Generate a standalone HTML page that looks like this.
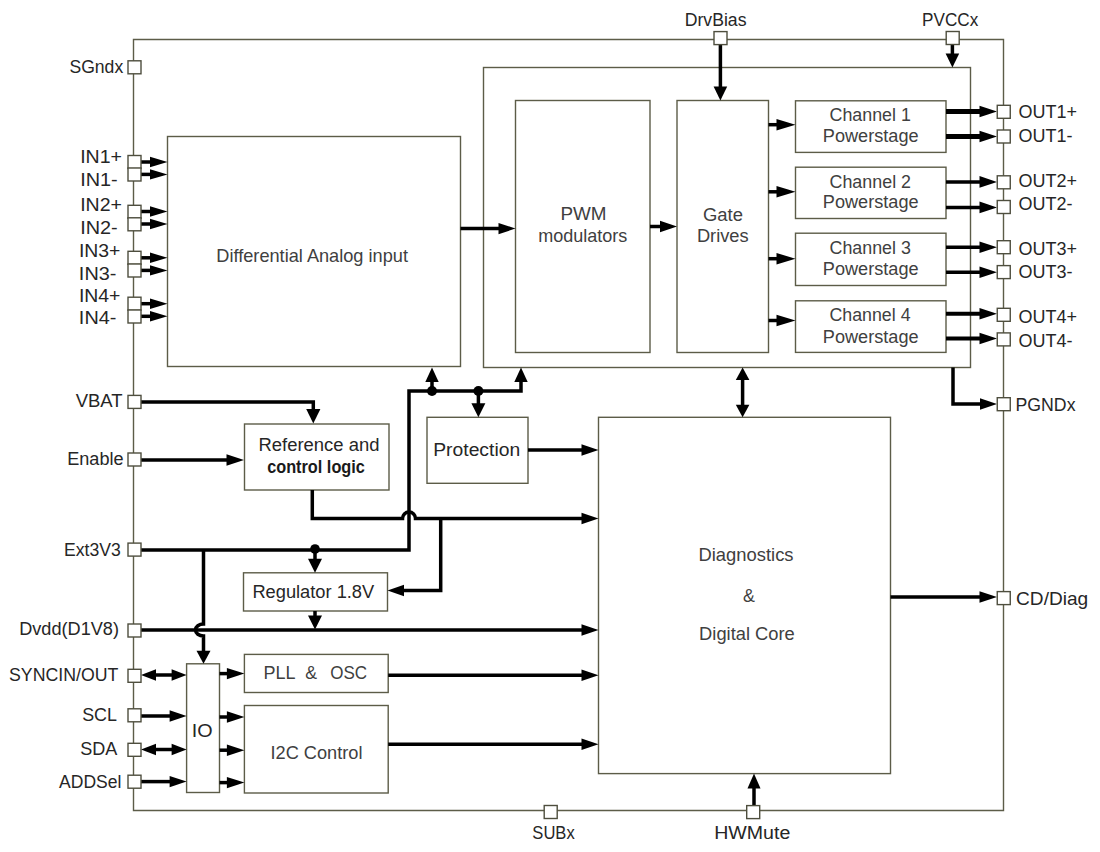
<!DOCTYPE html>
<html><head><meta charset="utf-8"><style>
html,body{margin:0;padding:0;background:#fff;width:1100px;height:852px;overflow:hidden}
svg{display:block;font-family:"Liberation Sans",sans-serif}
</style></head><body>
<svg width="1100" height="852" viewBox="0 0 1100 852">
<rect width="1100" height="852" fill="#fff"/>
<path d="M133.5,39.5 H1003.5 V810.5 H133.5 Z" fill="none" stroke="#5c5c48" stroke-width="1.4"/>
<rect x="167.5" y="136.5" width="293.00" height="230.00" fill="none" stroke="#5c5c48" stroke-width="1.4"/>
<rect x="483.5" y="67.5" width="487.00" height="300.00" fill="none" stroke="#5c5c48" stroke-width="1.4"/>
<rect x="515.5" y="100.5" width="134.50" height="252.00" fill="none" stroke="#5c5c48" stroke-width="1.4"/>
<rect x="677" y="100.5" width="91.50" height="252.00" fill="none" stroke="#5c5c48" stroke-width="1.4"/>
<rect x="795.5" y="100.8" width="150.50" height="51.60" fill="none" stroke="#5c5c48" stroke-width="1.4"/>
<rect x="795.5" y="167.2" width="150.50" height="51.30" fill="none" stroke="#5c5c48" stroke-width="1.4"/>
<rect x="795.5" y="233.2" width="150.50" height="52.30" fill="none" stroke="#5c5c48" stroke-width="1.4"/>
<rect x="795.5" y="300.8" width="150.50" height="51.60" fill="none" stroke="#5c5c48" stroke-width="1.4"/>
<rect x="244.5" y="424" width="144.50" height="66.00" fill="none" stroke="#5c5c48" stroke-width="1.4"/>
<rect x="427" y="417.3" width="101.00" height="66.00" fill="none" stroke="#5c5c48" stroke-width="1.4"/>
<rect x="598.5" y="417.3" width="292.00" height="356.30" fill="none" stroke="#5c5c48" stroke-width="1.4"/>
<rect x="243.5" y="572.8" width="144.00" height="38.20" fill="none" stroke="#5c5c48" stroke-width="1.4"/>
<rect x="244.4" y="654.4" width="143.80" height="38.10" fill="none" stroke="#5c5c48" stroke-width="1.4"/>
<rect x="244.4" y="705.5" width="143.80" height="87.50" fill="none" stroke="#5c5c48" stroke-width="1.4"/>
<rect x="186.6" y="663.8" width="32.90" height="128.70" fill="none" stroke="#5c5c48" stroke-width="1.4"/>
<path d="M141,162 L151.0,162" fill="none" stroke="#000" stroke-width="3.5" stroke-linejoin="miter" stroke-linecap="butt"/>
<polygon points="150.00,156.80 167.50,162.00 150.00,167.20" fill="#000"/>
<path d="M141,174.4 L151.0,174.4" fill="none" stroke="#000" stroke-width="3.5" stroke-linejoin="miter" stroke-linecap="butt"/>
<polygon points="150.00,169.20 167.50,174.40 150.00,179.60" fill="#000"/>
<path d="M141,211.5 L151.0,211.5" fill="none" stroke="#000" stroke-width="3.5" stroke-linejoin="miter" stroke-linecap="butt"/>
<polygon points="150.00,206.30 167.50,211.50 150.00,216.70" fill="#000"/>
<path d="M141,224 L151.0,224" fill="none" stroke="#000" stroke-width="3.5" stroke-linejoin="miter" stroke-linecap="butt"/>
<polygon points="150.00,218.80 167.50,224.00 150.00,229.20" fill="#000"/>
<path d="M141,257.8 L151.0,257.8" fill="none" stroke="#000" stroke-width="3.5" stroke-linejoin="miter" stroke-linecap="butt"/>
<polygon points="150.00,252.60 167.50,257.80 150.00,263.00" fill="#000"/>
<path d="M141,270.4 L151.0,270.4" fill="none" stroke="#000" stroke-width="3.5" stroke-linejoin="miter" stroke-linecap="butt"/>
<polygon points="150.00,265.20 167.50,270.40 150.00,275.60" fill="#000"/>
<path d="M141,303.7 L151.0,303.7" fill="none" stroke="#000" stroke-width="3.5" stroke-linejoin="miter" stroke-linecap="butt"/>
<polygon points="150.00,298.50 167.50,303.70 150.00,308.90" fill="#000"/>
<path d="M141,316.3 L151.0,316.3" fill="none" stroke="#000" stroke-width="3.5" stroke-linejoin="miter" stroke-linecap="butt"/>
<polygon points="150.00,311.10 167.50,316.30 150.00,321.50" fill="#000"/>
<path d="M141,402 H313.3 V410" fill="none" stroke="#000" stroke-width="3.5" stroke-linejoin="miter" stroke-linecap="butt"/>
<polygon points="306.20,409.00 313.30,423.50 320.40,409.00" fill="#000"/>
<path d="M141,460 L227.5,460" fill="none" stroke="#000" stroke-width="3.5" stroke-linejoin="miter" stroke-linecap="butt"/>
<polygon points="226.50,454.30 244.00,460.00 226.50,465.70" fill="#000"/>
<path d="M141,550 H409 V391 H521 V381" fill="none" stroke="#000" stroke-width="3.5" stroke-linejoin="miter" stroke-linecap="butt"/>
<polygon points="514.30,382.00 521.00,367.50 527.70,382.00" fill="#000"/>
<circle cx="315" cy="549" r="4.8" fill="#000"/>
<path d="M315,549 L315,559.8" fill="none" stroke="#000" stroke-width="3.5" stroke-linejoin="miter" stroke-linecap="butt"/>
<polygon points="308.00,558.80 315.00,572.80 322.00,558.80" fill="#000"/>
<circle cx="432" cy="391" r="5" fill="#000"/>
<path d="M432,391 V381" fill="none" stroke="#000" stroke-width="3.5" stroke-linejoin="miter" stroke-linecap="butt"/>
<polygon points="425.30,382.00 432.00,367.50 438.70,382.00" fill="#000"/>
<circle cx="478.4" cy="391" r="5" fill="#000"/>
<path d="M478.4,391 V404" fill="none" stroke="#000" stroke-width="3.5" stroke-linejoin="miter" stroke-linecap="butt"/>
<polygon points="471.40,403.30 478.40,417.30 485.40,403.30" fill="#000"/>
<path d="M203.5,550 V624 A8,6 0 0,0 203.5,636 V652" fill="none" stroke="#000" stroke-width="3.5" stroke-linejoin="miter" stroke-linecap="butt"/>
<polygon points="196.50,650.80 203.50,663.80 210.50,650.80" fill="#000"/>
<path d="M312.3,490 V518.5 H402.5 A6.5,6.5 0 0,1 415.5,518.5 H582" fill="none" stroke="#000" stroke-width="3.5" stroke-linejoin="miter" stroke-linecap="butt"/>
<polygon points="581.50,512.80 598.50,518.50 581.50,524.20" fill="#000"/>
<path d="M440.7,518.5 V590.5 H403" fill="none" stroke="#000" stroke-width="3.5" stroke-linejoin="miter" stroke-linecap="butt"/>
<polygon points="404.00,584.80 387.50,590.50 404.00,596.20" fill="#000"/>
<path d="M315,611 V616" fill="none" stroke="#000" stroke-width="3.5" stroke-linejoin="miter" stroke-linecap="butt"/>
<polygon points="308.00,615.50 315.00,629.50 322.00,615.50" fill="#000"/>
<path d="M141,630 H582" fill="none" stroke="#000" stroke-width="3.5" stroke-linejoin="miter" stroke-linecap="butt"/>
<polygon points="581.50,624.30 598.50,630.00 581.50,635.70" fill="#000"/>
<path d="M156,675 L172.6,675" fill="none" stroke="#000" stroke-width="3.5" stroke-linejoin="miter" stroke-linecap="butt"/>
<polygon points="171.60,669.30 186.60,675.00 171.60,680.70" fill="#000"/>
<polygon points="156.00,669.30 141.00,675.00 156.00,680.70" fill="#000"/>
<path d="M141,716 L170.6,716" fill="none" stroke="#000" stroke-width="3.5" stroke-linejoin="miter" stroke-linecap="butt"/>
<polygon points="169.60,710.30 186.60,716.00 169.60,721.70" fill="#000"/>
<path d="M156,749.5 L172.6,749.5" fill="none" stroke="#000" stroke-width="3.5" stroke-linejoin="miter" stroke-linecap="butt"/>
<polygon points="171.60,743.80 186.60,749.50 171.60,755.20" fill="#000"/>
<polygon points="156.00,743.80 141.00,749.50 156.00,755.20" fill="#000"/>
<path d="M141,781.6 L170.6,781.6" fill="none" stroke="#000" stroke-width="3.5" stroke-linejoin="miter" stroke-linecap="butt"/>
<polygon points="169.60,775.90 186.60,781.60 169.60,787.30" fill="#000"/>
<path d="M219.5,673.6 L227.9,673.6" fill="none" stroke="#000" stroke-width="3.5" stroke-linejoin="miter" stroke-linecap="butt"/>
<polygon points="226.90,667.90 244.40,673.60 226.90,679.30" fill="#000"/>
<path d="M219.5,717 L227.9,717" fill="none" stroke="#000" stroke-width="3.5" stroke-linejoin="miter" stroke-linecap="butt"/>
<polygon points="226.90,711.30 244.40,717.00 226.90,722.70" fill="#000"/>
<path d="M219.5,750.2 L227.9,750.2" fill="none" stroke="#000" stroke-width="3.5" stroke-linejoin="miter" stroke-linecap="butt"/>
<polygon points="226.90,744.50 244.40,750.20 226.90,755.90" fill="#000"/>
<path d="M219.5,782.6 L227.9,782.6" fill="none" stroke="#000" stroke-width="3.5" stroke-linejoin="miter" stroke-linecap="butt"/>
<polygon points="226.90,776.90 244.40,782.60 226.90,788.30" fill="#000"/>
<path d="M388.2,675.3 L582.5,675.3" fill="none" stroke="#000" stroke-width="3.5" stroke-linejoin="miter" stroke-linecap="butt"/>
<polygon points="581.50,669.60 598.50,675.30 581.50,681.00" fill="#000"/>
<path d="M388.2,744.3 L582.5,744.3" fill="none" stroke="#000" stroke-width="3.5" stroke-linejoin="miter" stroke-linecap="butt"/>
<polygon points="581.50,738.60 598.50,744.30 581.50,750.00" fill="#000"/>
<path d="M528,450 L582.5,450" fill="none" stroke="#000" stroke-width="3.5" stroke-linejoin="miter" stroke-linecap="butt"/>
<polygon points="581.50,444.30 598.50,450.00 581.50,455.70" fill="#000"/>
<path d="M460.5,228.6 L499.5,228.6" fill="none" stroke="#000" stroke-width="3.5" stroke-linejoin="miter" stroke-linecap="butt"/>
<polygon points="498.50,222.90 515.50,228.60 498.50,234.30" fill="#000"/>
<path d="M650,226.5 L661,226.5" fill="none" stroke="#000" stroke-width="3.5" stroke-linejoin="miter" stroke-linecap="butt"/>
<polygon points="660.00,220.80 677.00,226.50 660.00,232.20" fill="#000"/>
<path d="M768.5,124.7 L777.5,124.7" fill="none" stroke="#000" stroke-width="3.5" stroke-linejoin="miter" stroke-linecap="butt"/>
<polygon points="776.50,119.00 795.50,124.70 776.50,130.40" fill="#000"/>
<path d="M768.5,191.8 L777.5,191.8" fill="none" stroke="#000" stroke-width="3.5" stroke-linejoin="miter" stroke-linecap="butt"/>
<polygon points="776.50,186.10 795.50,191.80 776.50,197.50" fill="#000"/>
<path d="M768.5,258.7 L777.5,258.7" fill="none" stroke="#000" stroke-width="3.5" stroke-linejoin="miter" stroke-linecap="butt"/>
<polygon points="776.50,253.00 795.50,258.70 776.50,264.40" fill="#000"/>
<path d="M768.5,320.5 L777.5,320.5" fill="none" stroke="#000" stroke-width="3.5" stroke-linejoin="miter" stroke-linecap="butt"/>
<polygon points="776.50,314.80 795.50,320.50 776.50,326.20" fill="#000"/>
<path d="M946,111.5 L980.5,111.5" fill="none" stroke="#000" stroke-width="5" stroke-linejoin="miter" stroke-linecap="butt"/>
<polygon points="979.50,105.70 997.00,111.50 979.50,117.30" fill="#000"/>
<path d="M946,136.5 L980.5,136.5" fill="none" stroke="#000" stroke-width="5" stroke-linejoin="miter" stroke-linecap="butt"/>
<polygon points="979.50,130.70 997.00,136.50 979.50,142.30" fill="#000"/>
<path d="M946,181.9 L980.5,181.9" fill="none" stroke="#000" stroke-width="3.5" stroke-linejoin="miter" stroke-linecap="butt"/>
<polygon points="979.50,176.10 997.00,181.90 979.50,187.70" fill="#000"/>
<path d="M946,207.4 L980.5,207.4" fill="none" stroke="#000" stroke-width="3.5" stroke-linejoin="miter" stroke-linecap="butt"/>
<polygon points="979.50,201.60 997.00,207.40 979.50,213.20" fill="#000"/>
<path d="M946,247.2 L980.5,247.2" fill="none" stroke="#000" stroke-width="3.5" stroke-linejoin="miter" stroke-linecap="butt"/>
<polygon points="979.50,241.40 997.00,247.20 979.50,253.00" fill="#000"/>
<path d="M946,272.2 L980.5,272.2" fill="none" stroke="#000" stroke-width="3.5" stroke-linejoin="miter" stroke-linecap="butt"/>
<polygon points="979.50,266.40 997.00,272.20 979.50,278.00" fill="#000"/>
<path d="M946,313.7 L980.5,313.7" fill="none" stroke="#000" stroke-width="4" stroke-linejoin="miter" stroke-linecap="butt"/>
<polygon points="979.50,307.90 997.00,313.70 979.50,319.50" fill="#000"/>
<path d="M946,338.5 L980.5,338.5" fill="none" stroke="#000" stroke-width="4" stroke-linejoin="miter" stroke-linecap="butt"/>
<polygon points="979.50,332.70 997.00,338.50 979.50,344.30" fill="#000"/>
<path d="M953,367.5 V404 H981" fill="none" stroke="#000" stroke-width="3.5" stroke-linejoin="miter" stroke-linecap="butt"/>
<polygon points="980.00,398.20 997.00,404.00 980.00,409.80" fill="#000"/>
<path d="M890.5,597 L980.5,597" fill="none" stroke="#000" stroke-width="3.5" stroke-linejoin="miter" stroke-linecap="butt"/>
<polygon points="979.50,591.20 997.00,597.00 979.50,602.80" fill="#000"/>
<path d="M720.4,44.4 L720.4,87.5" fill="none" stroke="#000" stroke-width="3.5" stroke-linejoin="miter" stroke-linecap="butt"/>
<polygon points="713.60,86.50 720.40,100.50 727.20,86.50" fill="#000"/>
<path d="M952.4,44.6 L952.4,54.5" fill="none" stroke="#000" stroke-width="3.5" stroke-linejoin="miter" stroke-linecap="butt"/>
<polygon points="945.60,53.50 952.40,67.50 959.20,53.50" fill="#000"/>
<path d="M754,805.4 L754,787.6" fill="none" stroke="#000" stroke-width="3.5" stroke-linejoin="miter" stroke-linecap="butt"/>
<polygon points="747.50,788.60 754.00,773.60 760.50,788.60" fill="#000"/>
<path d="M742.6,380.0 L742.6,405.8" fill="none" stroke="#000" stroke-width="3.5" stroke-linejoin="miter" stroke-linecap="butt"/>
<polygon points="735.80,404.80 742.60,417.30 749.40,404.80" fill="#000"/>
<polygon points="735.80,380.00 742.60,367.50 749.40,380.00" fill="#000"/>
<rect x="128.00" y="60.80" width="13" height="13" fill="#fff" stroke="#4e4e3e" stroke-width="1.4"/>
<rect x="128.00" y="155.50" width="13" height="13" fill="#fff" stroke="#4e4e3e" stroke-width="1.4"/>
<rect x="128.00" y="168.00" width="13" height="13" fill="#fff" stroke="#4e4e3e" stroke-width="1.4"/>
<rect x="128.00" y="205.30" width="13" height="13" fill="#fff" stroke="#4e4e3e" stroke-width="1.4"/>
<rect x="128.00" y="217.80" width="13" height="13" fill="#fff" stroke="#4e4e3e" stroke-width="1.4"/>
<rect x="128.00" y="251.30" width="13" height="13" fill="#fff" stroke="#4e4e3e" stroke-width="1.4"/>
<rect x="128.00" y="264.00" width="13" height="13" fill="#fff" stroke="#4e4e3e" stroke-width="1.4"/>
<rect x="128.00" y="297.20" width="13" height="13" fill="#fff" stroke="#4e4e3e" stroke-width="1.4"/>
<rect x="128.00" y="310.00" width="13" height="13" fill="#fff" stroke="#4e4e3e" stroke-width="1.4"/>
<rect x="128.00" y="395.40" width="13" height="13" fill="#fff" stroke="#4e4e3e" stroke-width="1.4"/>
<rect x="128.00" y="453.00" width="13" height="13" fill="#fff" stroke="#4e4e3e" stroke-width="1.4"/>
<rect x="128.00" y="543.10" width="13" height="13" fill="#fff" stroke="#4e4e3e" stroke-width="1.4"/>
<rect x="128.00" y="624.00" width="13" height="13" fill="#fff" stroke="#4e4e3e" stroke-width="1.4"/>
<rect x="128.00" y="669.30" width="13" height="13" fill="#fff" stroke="#4e4e3e" stroke-width="1.4"/>
<rect x="128.00" y="708.80" width="13" height="13" fill="#fff" stroke="#4e4e3e" stroke-width="1.4"/>
<rect x="128.00" y="743.30" width="13" height="13" fill="#fff" stroke="#4e4e3e" stroke-width="1.4"/>
<rect x="128.00" y="775.20" width="13" height="13" fill="#fff" stroke="#4e4e3e" stroke-width="1.4"/>
<rect x="997.25" y="105.30" width="13" height="13" fill="#fff" stroke="#4e4e3e" stroke-width="1.4"/>
<rect x="997.25" y="130.00" width="13" height="13" fill="#fff" stroke="#4e4e3e" stroke-width="1.4"/>
<rect x="997.25" y="175.80" width="13" height="13" fill="#fff" stroke="#4e4e3e" stroke-width="1.4"/>
<rect x="997.25" y="200.50" width="13" height="13" fill="#fff" stroke="#4e4e3e" stroke-width="1.4"/>
<rect x="997.25" y="240.70" width="13" height="13" fill="#fff" stroke="#4e4e3e" stroke-width="1.4"/>
<rect x="997.25" y="265.60" width="13" height="13" fill="#fff" stroke="#4e4e3e" stroke-width="1.4"/>
<rect x="997.25" y="308.30" width="13" height="13" fill="#fff" stroke="#4e4e3e" stroke-width="1.4"/>
<rect x="997.25" y="332.90" width="13" height="13" fill="#fff" stroke="#4e4e3e" stroke-width="1.4"/>
<rect x="997.25" y="397.70" width="13" height="13" fill="#fff" stroke="#4e4e3e" stroke-width="1.4"/>
<rect x="997.25" y="591.60" width="13" height="13" fill="#fff" stroke="#4e4e3e" stroke-width="1.4"/>
<rect x="714.00" y="31.60" width="13" height="13" fill="#fff" stroke="#4e4e3e" stroke-width="1.4"/>
<rect x="946.20" y="31.50" width="13" height="13" fill="#fff" stroke="#4e4e3e" stroke-width="1.4"/>
<rect x="544.20" y="805.50" width="13" height="13" fill="#fff" stroke="#4e4e3e" stroke-width="1.4"/>
<rect x="746.70" y="805.60" width="13" height="13" fill="#fff" stroke="#4e4e3e" stroke-width="1.4"/>
<text transform="translate(69.41,72.5) scale(0.9514,1)" font-size="18.5" fill="#262626">SGndx</text>
<text transform="translate(80.19,163.1) scale(1.0554,1)" font-size="18.5" fill="#262626">IN1+</text>
<text transform="translate(80.16,185.9) scale(1.0734,1)" font-size="18.5" fill="#262626">IN1-</text>
<text transform="translate(80.19,211) scale(1.0554,1)" font-size="18.5" fill="#262626">IN2+</text>
<text transform="translate(80.16,233.8) scale(1.0734,1)" font-size="18.5" fill="#262626">IN2-</text>
<text transform="translate(78.90,256.8) scale(1.0500,1)" font-size="18.5" fill="#262626">IN3+</text>
<text transform="translate(78.86,279.7) scale(1.0734,1)" font-size="18.5" fill="#262626">IN3-</text>
<text transform="translate(78.90,301.5) scale(1.0500,1)" font-size="18.5" fill="#262626">IN4+</text>
<text transform="translate(78.86,324.3) scale(1.0734,1)" font-size="18.5" fill="#262626">IN4-</text>
<text transform="translate(75.71,407.4) scale(0.9992,1)" font-size="18.5" fill="#262626">VBAT</text>
<text transform="translate(67.21,465.3) scale(0.9789,1)" font-size="18.5" fill="#262626">Enable</text>
<text transform="translate(64.05,556.3) scale(0.9511,1)" font-size="18.5" fill="#262626">Ext3V3</text>
<text transform="translate(19.20,634.5) scale(0.9812,1)" font-size="18.5" fill="#262626">Dvdd(D1V8)</text>
<text transform="translate(9.00,681) scale(0.9588,1)" font-size="18.5" fill="#262626">SYNCIN/OUT</text>
<text transform="translate(82.20,721.3) scale(0.9667,1)" font-size="18.5" fill="#262626">SCL</text>
<text transform="translate(80.19,755) scale(0.9762,1)" font-size="18.5" fill="#262626">SDA</text>
<text transform="translate(59.06,788) scale(0.9470,1)" font-size="18.5" fill="#262626">ADDSel</text>
<text transform="translate(1018.44,118.3) scale(0.9731,1)" font-size="18.5" fill="#262626">OUT1+</text>
<text transform="translate(1018.44,141.6) scale(0.9733,1)" font-size="18.5" fill="#262626">OUT1-</text>
<text transform="translate(1018.44,187) scale(0.9731,1)" font-size="18.5" fill="#262626">OUT2+</text>
<text transform="translate(1018.44,210) scale(0.9733,1)" font-size="18.5" fill="#262626">OUT2-</text>
<text transform="translate(1018.44,255) scale(0.9731,1)" font-size="18.5" fill="#262626">OUT3+</text>
<text transform="translate(1018.44,278) scale(0.9733,1)" font-size="18.5" fill="#262626">OUT3-</text>
<text transform="translate(1018.44,323.2) scale(0.9731,1)" font-size="18.5" fill="#262626">OUT4+</text>
<text transform="translate(1018.44,346.5) scale(0.9733,1)" font-size="18.5" fill="#262626">OUT4-</text>
<text transform="translate(1015.54,411) scale(0.9564,1)" font-size="18.5" fill="#262626">PGNDx</text>
<text transform="translate(1016.05,604.5) scale(1.0324,1)" font-size="18.5" fill="#262626">CD/Diag</text>
<text transform="translate(684.74,25.9) scale(0.9540,1)" font-size="18.5" fill="#262626">DrvBias</text>
<text transform="translate(922.09,26.2) scale(0.9257,1)" font-size="18.5" fill="#262626">PVCCx</text>
<text transform="translate(532.35,838.6) scale(0.8960,1)" font-size="18.5" fill="#262626">SUBx</text>
<text transform="translate(714.18,839.1) scale(1.0588,1)" font-size="18.5" fill="#262626">HWMute</text>
<text transform="translate(216.30,261.8) scale(0.9834,1)" font-size="18.5" fill="#404040">Differential Analog input</text>
<text transform="translate(560.44,220.3) scale(1.0206,1)" font-size="18.5" fill="#404040">PWM</text>
<text transform="translate(538.18,241.5) scale(0.9751,1)" font-size="18.5" fill="#404040">modulators</text>
<text transform="translate(702.98,220.7) scale(0.9977,1)" font-size="18.5" fill="#404040">Gate</text>
<text transform="translate(696.89,241.5) scale(0.9875,1)" font-size="18.5" fill="#404040">Drives</text>
<text transform="translate(829.51,120.5) scale(0.9659,1)" font-size="18.5" fill="#404040">Channel 1</text>
<text transform="translate(822.80,141.7) scale(0.9815,1)" font-size="18.5" fill="#404040">Powerstage</text>
<text transform="translate(829.51,187.8) scale(0.9665,1)" font-size="18.5" fill="#404040">Channel 2</text>
<text transform="translate(822.80,207.9) scale(0.9815,1)" font-size="18.5" fill="#404040">Powerstage</text>
<text transform="translate(829.51,254) scale(0.9649,1)" font-size="18.5" fill="#404040">Channel 3</text>
<text transform="translate(822.80,275.3) scale(0.9815,1)" font-size="18.5" fill="#404040">Powerstage</text>
<text transform="translate(829.51,321) scale(0.9616,1)" font-size="18.5" fill="#404040">Channel 4</text>
<text transform="translate(822.80,342.8) scale(0.9815,1)" font-size="18.5" fill="#404040">Powerstage</text>
<text transform="translate(258.48,451.4) scale(0.9977,1)" font-size="18.5" fill="#262626">Reference and</text>
<text transform="translate(267.15,473) scale(0.8811,1)" font-size="18.5" font-weight="bold" fill="#1a1a1a">control logic</text>
<text transform="translate(433.21,456.2) scale(1.0445,1)" font-size="18.5" fill="#262626">Protection</text>
<text transform="translate(698.48,561) scale(0.9950,1)" font-size="18.5" fill="#404040">Diagnostics</text>
<text transform="translate(742.98,602.4) scale(0.9629,1)" font-size="18.5" fill="#404040">&amp;</text>
<text transform="translate(699.09,640) scale(0.9904,1)" font-size="18.5" fill="#404040">Digital Core</text>
<text transform="translate(252.39,598) scale(0.9875,1)" font-size="18.5" fill="#262626">Regulator 1.8V</text>
<text transform="translate(263.52,679) scale(0.9722,1)" font-size="18.5" fill="#404040">PLL</text>
<text transform="translate(305.18,679) scale(0.9542,1)" font-size="18.5" fill="#404040">&amp;</text>
<text transform="translate(330.19,679) scale(0.9189,1)" font-size="18.5" fill="#404040">OSC</text>
<text transform="translate(270.52,759.4) scale(0.9834,1)" font-size="18.5" fill="#404040">I2C Control</text>
<text transform="translate(191.87,736.8) scale(1.0693,1)" font-size="18.5" fill="#262626">IO</text>
</svg></body></html>
